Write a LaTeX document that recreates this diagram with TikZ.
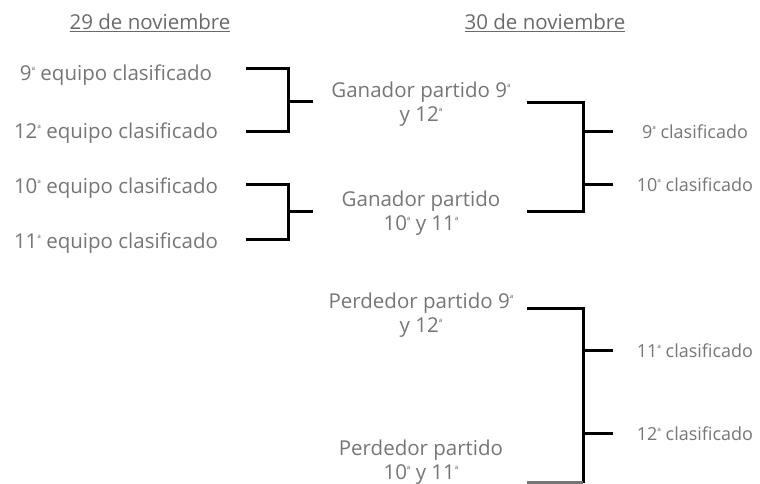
\documentclass[tikz,border=0pt]{standalone}
\usepackage{fontspec}
\setmainfont{Open Sans}
\usepackage{xcolor}
\definecolor{txtgray}{HTML}{767676}
\newcommand{\ordn}{\raisebox{5.5pt}{\fontsize{10}{10}\selectfont ª}}
\tikzset{
  lbl/.style={text=txtgray,font=\fontsize{20.5}{24}\selectfont,align=center,inner sep=0pt},
  place/.style={lbl,font=\fontsize{18}{20}\selectfont},
  hdr/.style={text=txtgray!90!black,font=\fontsize{20.5}{22}\selectfont,inner sep=0pt},
  brk/.style={line width=3pt,black}
}
\begin{document}
\begin{tikzpicture}[x=1pt,y=-1pt]
        \useasboundingbox (0,0) rectangle (760,483);
        % dates
        \node[hdr] (d29) at (150,23) {\underline{29 de noviembre}};
        \node[hdr] (d30) at (545,23) {\underline{30 de noviembre}};
        % first round
        \node[lbl] (e9) at (116,75) {9\ordn\ equipo clasificado};
        \node[lbl] (e12) at (116,133) {12\ordn\ equipo clasificado};
        \node[lbl] (e10) at (116,188) {10\ordn\ equipo clasificado};
        \node[lbl] (e11) at (116,243) {11\ordn\ equipo clasificado};
        % second round
        \node[lbl] (g1) at (421,104) {Ganador partido 9\ordn\\y 12\ordn};
        \node[lbl] (g2) at (421,213) {Ganador partido\\10\ordn\ y 11\ordn};
        \node[lbl] (p1) at (421,315) {Perdedor partido 9\ordn\\y 12\ordn};
        \node[lbl] (p2) at (421,462) {Perdedor partido\\10\ordn\ y 11\ordn};
        % places
        \node[place] (c9) at (695,132) {9\ordn\ clasificado};
        \node[place] (c10) at (695,185) {10\ordn\ clasificado};
        \node[place] (c11) at (695,351) {11\ordn\ clasificado};
        \node[place] (c12) at (695,434) {12\ordn\ clasificado};

        \coordinate (a1) at (246,68);
        \coordinate (a2) at (246,131);
        \coordinate (a3) at (246,184);
        \coordinate (a4) at (246,239);
        \coordinate (m1) at (313,101);
        \coordinate (m2) at (313,211);
        \coordinate (b1) at (527,102);
        \coordinate (b2) at (527,211);
        \coordinate (b3) at (527,308);
        \coordinate (b4) at (527,482.8);
        \coordinate (s9) at (613,131);
        \coordinate (s10) at (613,184);
        \coordinate (s11) at (613,350);
        \coordinate (s12) at (613,433);

        \draw[brk] (a1)-|(288,0|-a2)--(a2);
        \draw[brk] (288,0|-m1)--(m1);
        \draw[brk] (a3)-|(288,0|-a4)--(a4);
        \draw[brk] (288,0|-m2)--(m2);

        \draw[brk] (b1)-|(583,0|-b2)--(b2);
        \draw[brk] (583,0|-s9)--(s9);
        \draw[brk] (583,0|-s10)--(s10);
        \draw[brk] (b3)-|(583,0|-b4);
        \draw[brk,txtgray] (583,0|-b4)--(b4);
        \draw[brk] (583,0|-s11)--(s11);
        \draw[brk] (583,0|-s12)--(s12);
\end{tikzpicture}
\end{document}
